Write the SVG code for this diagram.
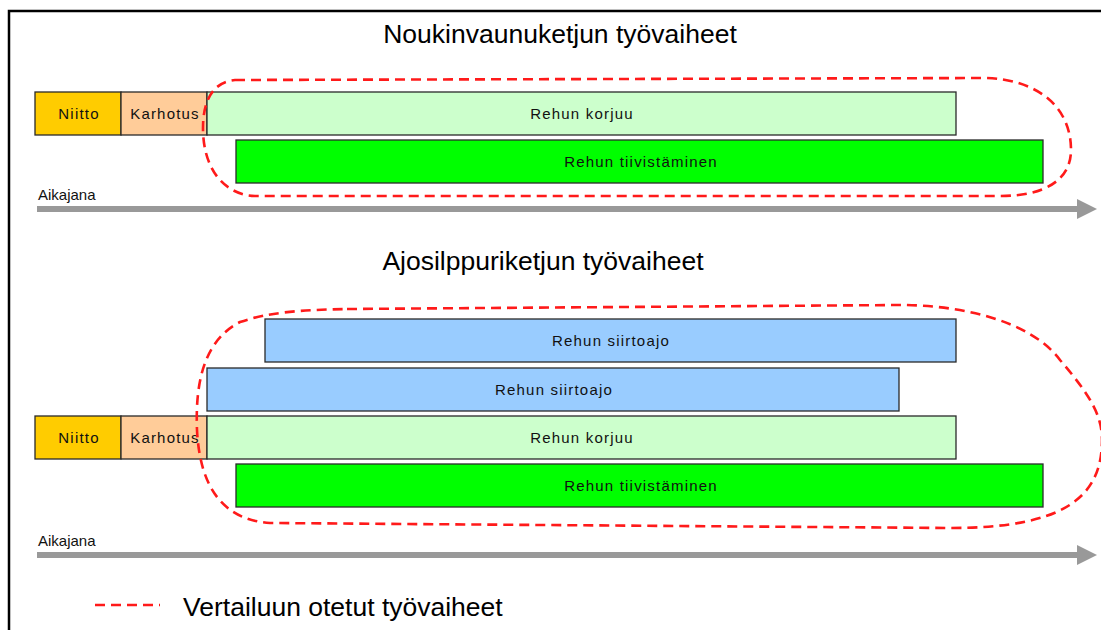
<svg xmlns="http://www.w3.org/2000/svg" width="1101" height="630" viewBox="0 0 1101 630">
<style>
.bar{stroke:#2a2a2a;stroke-width:1.3}
.bt{font-family:"Liberation Sans",Arial,sans-serif;font-size:15px;letter-spacing:1.2px;fill:#111;text-anchor:middle}
.title{font-family:"Liberation Sans",Arial,sans-serif;font-size:26.5px;fill:#000;text-anchor:middle}
.lbl{font-family:"Liberation Sans",Arial,sans-serif;font-size:15px;fill:#111}
.loop{fill:none;stroke:#ff1a1a;stroke-width:2.6;stroke-dasharray:10 6}
.axis{stroke:#999;stroke-width:6;fill:none}
</style>
<defs>
<marker id="ah" markerUnits="userSpaceOnUse" markerWidth="22" markerHeight="20" refX="3" refY="10" orient="auto">
<path d="M0,0 L20,10 L0,20 Z" fill="#999"/>
</marker>
</defs>
<rect width="1101" height="630" fill="#fff"/>
<g id="frame"><path d="M9,630 L9,11 L1101,11" fill="none" stroke="#000" stroke-width="2.5"/></g>

<g id="title1"><text class="title" x="560" y="43">Noukinvaunuketjun työvaiheet</text></g>
<g id="title2"><text class="title" x="543" y="270">Ajosilppuriketjun työvaiheet</text></g>

<g id="r1-niitto"><rect class="bar" x="35" y="92" width="86" height="43" fill="#ffcc00"/><text class="bt" x="79" y="119">Niitto</text></g>
<g id="r1-karhotus"><rect class="bar" x="121" y="92" width="86" height="43" fill="#ffcc99"/><text class="bt" x="165" y="119">Karhotus</text></g>
<g id="r1-korjuu"><rect class="bar" x="207" y="92" width="749" height="43" fill="#ccffcc"/><text class="bt" x="582" y="119">Rehun korjuu</text></g>
<g id="r1-tiivistaminen"><rect class="bar" x="236" y="140" width="807" height="43" fill="#00ff00"/><text class="bt" x="641" y="167">Rehun tiivistäminen</text></g>

<g id="r2-siirtoajo1"><rect class="bar" x="265" y="319" width="691" height="43" fill="#99ccff"/><text class="bt" x="611" y="346">Rehun siirtoajo</text></g>
<g id="r2-siirtoajo2"><rect class="bar" x="207" y="368" width="692" height="43" fill="#99ccff"/><text class="bt" x="554" y="395">Rehun siirtoajo</text></g>
<g id="r2-niitto"><rect class="bar" x="35" y="416" width="86" height="43" fill="#ffcc00"/><text class="bt" x="79" y="443">Niitto</text></g>
<g id="r2-karhotus"><rect class="bar" x="121" y="416" width="86" height="43" fill="#ffcc99"/><text class="bt" x="165" y="443">Karhotus</text></g>
<g id="r2-korjuu"><rect class="bar" x="207" y="416" width="749" height="43" fill="#ccffcc"/><text class="bt" x="582" y="443">Rehun korjuu</text></g>
<g id="r2-tiivistaminen"><rect class="bar" x="236" y="464" width="807" height="43" fill="#00ff00"/><text class="bt" x="641" y="491">Rehun tiivistäminen</text></g>

<g id="connectors">
<path class="loop" d="M235,80 L985,78 C1035,79 1071,105 1071,150 C1071,180 1045,196 1000,196 L255,196 C225,195 203,170 203,128 C203,100 213,82 235,80 Z"/>
<path class="loop" d="M347,309 L900,305 C960,305 1030,320 1060,360 C1090,395 1102,415 1102,440 C1102,500 1060,528 950,528 L270,523 C225,520 200,490 197,430 C195,380 205,340 240,322 C270,312 300,310 347,309 Z"/>
<line class="axis" x1="37" y1="209" x2="1080" y2="209" marker-end="url(#ah)"/>
<line class="axis" x1="37" y1="555" x2="1080" y2="555" marker-end="url(#ah)"/>
</g>
<g id="axis-labels">
<text class="lbl" x="38" y="200">Aikajana</text>
<text class="lbl" x="38" y="546">Aikajana</text>
</g>
<g id="legend">
<line x1="95" y1="605" x2="160" y2="605" stroke="#ff1a1a" stroke-width="2.6" stroke-dasharray="10 6"/>
<text class="title" x="183" y="616" style="text-anchor:start">Vertailuun otetut työvaiheet</text>
</g>
</svg>
